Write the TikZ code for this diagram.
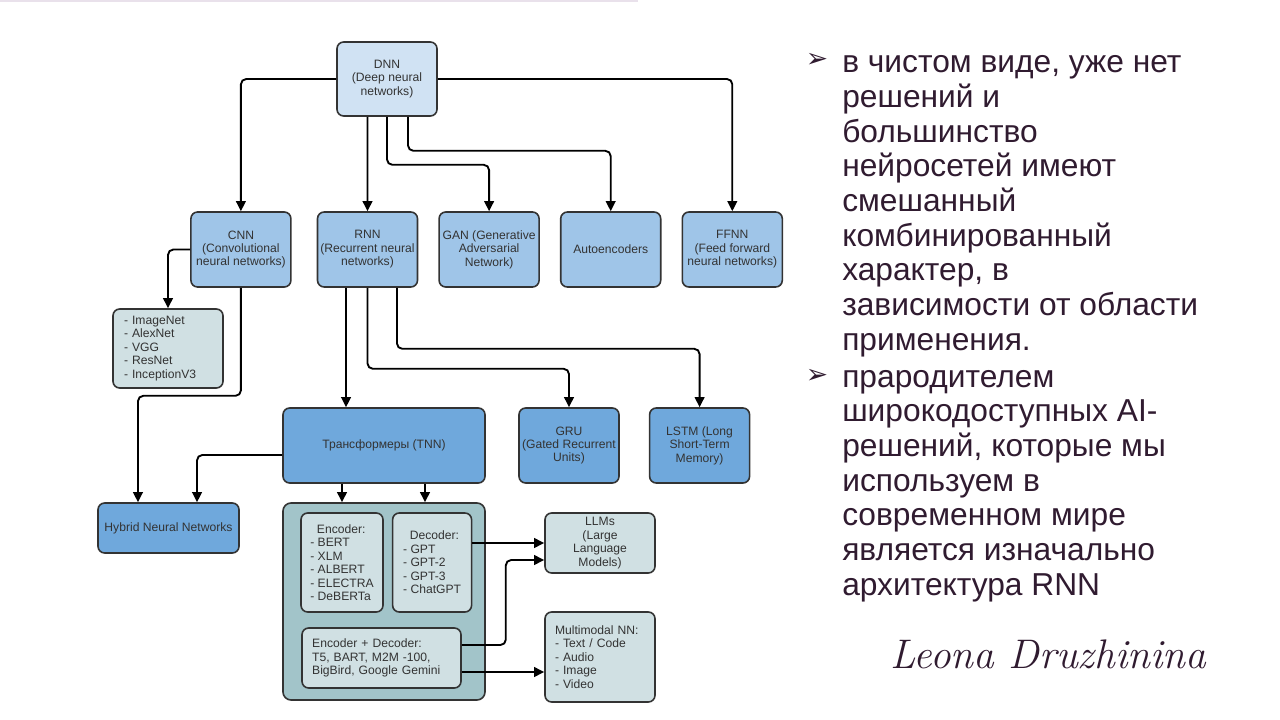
\documentclass[tikz,border=0pt]{standalone}
\usepackage{fontspec}
\setsansfont{Liberation Sans}
\renewcommand{\familydefault}{\sfdefault}
\newfontfamily\symbolfont{DejaVu Sans}
\usepackage{tikz}
\usetikzlibrary{arrows.meta,positioning,calc}
\usepackage{xcolor}
\definecolor{dnnblue}{HTML}{D0E2F3}
\definecolor{midblue}{HTML}{9FC5E8}
\definecolor{deepblue}{HTML}{6FA8DC}
\definecolor{paleteal}{HTML}{D0E0E3}
\definecolor{groupteal}{HTML}{A2C4C9}
\definecolor{edgegrey}{HTML}{333333}
\definecolor{inkplum}{RGB}{48,27,48}
\definecolor{topstripe}{HTML}{E9E1EB}

\tikzset{
  box/.style={draw=edgegrey, line width=1.2pt, rounded corners=5pt, align=center,
    text=edgegrey, inner sep=1pt, font=\fontsize{9.1}{10.1}\selectfont},
  family/.style={box, fill=midblue, minimum width=75pt, minimum height=56.25pt},
  variant/.style={box, fill=deepblue, minimum width=75pt, minimum height=56.25pt},
  listbox/.style={box, fill=paleteal, align=left},
  groupbox/.style={draw=edgegrey, line width=1.2pt, rounded corners=6pt, fill=groupteal},
  link/.style={-{Triangle[length=7.5pt,width=7.2pt]}, line width=1.4pt, rounded corners=4pt},
  bodytext/.style={align=left, text=inkplum, inner sep=0pt, font=\fontsize{23.8}{26}\selectfont},
  bulletmark/.style={text=inkplum, inner sep=0pt, font=\symbolfont\fontsize{20}{20}\selectfont}
}

\begin{document}
\begin{tikzpicture}[x=0.75pt,y=-0.75pt]
  \useasboundingbox (0,0) rectangle (1280,720);
  \draw[topstripe, line width=1.5pt] (0,1) -- (638,1);

  % Root
  \node[box, fill=dnnblue, minimum width=75pt, minimum height=55.5pt] (dnn) at (387,79)
    {DNN\\(Deep neural\\networks)};

  % Main families
  \node[family] (rnn) at (367.5,249.5) {RNN\\(Recurrent neural\\networks)};
  \node[family, left=18.75pt of rnn] (cnn) {CNN\\(Convolutional\\neural networks)};
  \node[family, right=15pt of rnn] (gan) {GAN (Generative\\Adversarial\\Network)};
  \node[family, right=15pt of gan] (autoenc) {Autoencoders};
  \node[family, right=15pt of autoenc] (ffnn) {FFNN\\(Feed forward\\neural networks)};

  % CNN models
  \node[listbox, text width=66pt, minimum width=82.5pt, minimum height=59.25pt] (cnnlist) at (168,348.5)
    {- ImageNet\\- AlexNet\\- VGG\\- ResNet\\- InceptionV3};

  % RNN descendants
  \node[box, fill=deepblue, minimum width=151.5pt, minimum height=56.25pt] (tnn) at (384,445.5)
    {Трансформеры (TNN)};
  \node[variant] (gru) at (569,445.5) {GRU\\(Gated Recurrent\\Units)};
  \node[variant, right=21.75pt of gru] (lstm) {LSTM (Long\\Short-Term\\Memory)};

  \node[box, fill=deepblue, minimum width=105.75pt, minimum height=37.5pt] (hybrid) at (168.5,528)
    {Hybrid Neural Networks};

  % Transformer group
  \node[groupbox, minimum width=151.5pt, minimum height=147.75pt] (group) at (384,601.5) {};
  \node[listbox, minimum width=61.5pt, minimum height=74.25pt] (enc) at (342,562.5)
    {\hspace*{0.55em}Encoder:\\- BERT\\- XLM\\- ALBERT\\- ELECTRA\\- DeBERTa};
  \node[listbox, minimum width=59.25pt, minimum height=74.25pt, right=6pt of enc] (dec)
    {\hspace*{0.55em}Decoder:\\- GPT\\- GPT-2\\- GPT-3\\- ChatGPT};
  \node[listbox, text width=104pt, minimum width=119.25pt, minimum height=45pt] (encdec) at (381.5,658)
    {Encoder + Decoder:\\T5, BART, M2M -100,\\BigBird, Google Gemini};

  % Applications
  \node[box, fill=paleteal, minimum width=82.5pt, minimum height=45pt] (llm) at (600,543)
    {LLMs\\(Large\\Language\\Models)};
  \node[listbox, text width=67.5pt, minimum width=82.5pt, minimum height=67.5pt] (multi) at (600,657)
    {Multimodal NN:\\- Text / Code\\- Audio\\- Image\\- Video};

  % Arrows from DNN
  \draw[link] (dnn.west) -| (cnn.north);
  \draw[link] ([xshift=-14.6pt]dnn.south) -- (rnn.north);
  \draw[link] (dnn.south) -- ++(0,48) -| (gan.north);
  \draw[link] ([xshift=15.75pt]dnn.south) -- ++(0,34) -| (autoenc.north);
  \draw[link] (dnn.east) -| (ffnn.north);

  % Arrows from CNN
  \draw[link] (cnn.west) -| (cnnlist.north);
  \draw[link] (cnn.south) -- ++(0,108) -| ([xshift=-22.9pt]hybrid.north);

  % Arrows from RNN
  \draw[link] ([xshift=-16.1pt]rnn.south) -- ([xshift=-16.1pt]rnn.south |- tnn.north);
  \draw[link] (rnn.south) -- ++(0,81) -| (gru.north);
  \draw[link] ([xshift=22.1pt]rnn.south) -- ++(0,61) -| (lstm.north);

  % Arrows from Transformers
  \draw[link] ([yshift=-7.1pt]tnn.west) -| ([xshift=21.4pt]hybrid.north);
  \draw[link] ([xshift=-31.5pt]tnn.south) -- ([xshift=-31.5pt]tnn.south |- group.north);
  \draw[link] ([xshift=30.75pt]tnn.south) -- ([xshift=30.75pt]tnn.south |- group.north);

  % Arrows to applications
  \draw[link] (dec.east |- llm.west) -- (llm.west);
  \draw[link] ([yshift=9.75pt]encdec.east) -- ++(44,0) |- ([yshift=-12.75pt]llm.west);
  \draw[link] ([yshift=-10.5pt]encdec.east) -- ([yshift=-10.5pt]encdec.east -| multi.west);

  % Commentary (base = last line)
  \node[bulletmark, anchor=base] (mark1) at (817,68) {➢};
  \node[bodytext, anchor=base west] (para1) at (842,350)
    {в чистом виде, уже нет\\решений и\\большинство\\нейросетей имеют\\смешанный\\комбинированный\\характер, в\\зависимости от области\\применения.};
  \node[bulletmark, anchor=base] (mark2) at (817,383) {➢};
  \node[bodytext, anchor=base west] (para2) at (842,595)
    {прародителем\\широкодоступных AI-\\решений, которые мы\\используем в\\современном мире\\является изначально\\архитектура RNN};

  \node[text=inkplum, inner sep=0pt, anchor=base west,
    font=\rmfamily\itshape\fontsize{31}{31}\selectfont] (sign) at (890,668) {Leona Druzhinina};
\end{tikzpicture}
\end{document}
